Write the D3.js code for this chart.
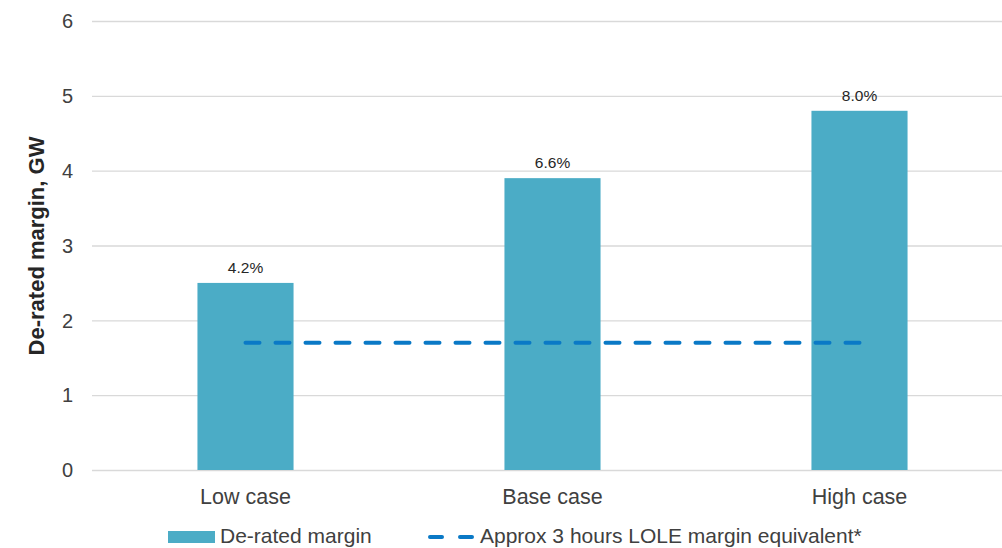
<!DOCTYPE html>
<html>
<head>
<meta charset="utf-8">
<script src="https://cdn.jsdelivr.net/npm/d3@7"></script>
<style>
  body { margin: 0; background: #fff; }
  svg { font-family: Arial, "Liberation Sans", sans-serif; }
</style>
</head>
<body>
<svg id="chart" width="1002" height="548"></svg>
<script>
const categories = ['Low case', 'Base case', 'High case']
const margins = [2.5, 3.9, 4.8] // GW
const marginLabels = ['4.2%', '6.6%', '8.0%']
const loleLevel = [1.7, 1.7, 1.7] // approx 3 hours LOLE
const yTicks = [0, 1, 2, 3, 4, 5, 6]

const svg = d3.select('#chart')
const plotLeft = 92, plotRight = 1013, plotTop = 21, plotBottom = 470

const x = d3.scaleBand().domain(categories).range([plotLeft, plotRight]).paddingInner(0.687).paddingOuter(0.3435)
const y = d3.scaleLinear().domain([0, 6]).range([plotBottom, plotTop])

// grid
svg.append('g').selectAll('line').data(yTicks).join('line')
  .attr('x1', plotLeft).attr('x2', plotRight)
  .attr('y1', d => y(d) + 0.5).attr('y2', d => y(d) + 0.5)
  .attr('stroke', '#d9d9d9').attr('stroke-width', 1.3)

// y tick labels
svg.append('g').selectAll('text').data(yTicks).join('text')
  .attr('x', 73).attr('y', d => y(d))
  .attr('dy', '0.36em').attr('text-anchor', 'end')
  .attr('font-size', 20).attr('fill', '#404040')
  .text(d => d)

// y title
svg.append('text')
  .attr('transform', 'translate(44,246) rotate(-90)')
  .attr('text-anchor', 'middle')
  .attr('font-size', 22).attr('font-weight', 'bold').attr('fill', '#262626')
  .text('De-rated margin, GW')

// bars
svg.append('g').selectAll('rect').data(margins).join('rect')
  .attr('x', (d, i) => x(categories[i]))
  .attr('width', x.bandwidth())
  .attr('y', d => y(d))
  .attr('height', d => y(0) - y(d))
  .attr('fill', '#4BACC6')

// bar labels
svg.append('g').selectAll('text').data(margins).join('text')
  .attr('x', (d, i) => x(categories[i]) + x.bandwidth() / 2)
  .attr('y', d => y(d) - 10)
  .attr('text-anchor', 'middle')
  .attr('font-size', 15.5).attr('fill', '#262626')
  .text((d, i) => marginLabels[i])

// LOLE dashed line
const line = d3.line()
  .x((d, i) => x(categories[i]) + x.bandwidth() / 2)
  .y(d => y(d))
svg.append('path').datum(loleLevel)
  .attr('d', line)
  .attr('fill', 'none')
  .attr('stroke', '#0A79C6').attr('stroke-width', 4)
  .attr('stroke-linecap', 'round')
  .attr('stroke-dasharray', '14 16')

// category labels
svg.append('g').selectAll('text').data(categories).join('text')
  .attr('x', d => x(d) + x.bandwidth() / 2)
  .attr('y', 504)
  .attr('text-anchor', 'middle')
  .attr('font-size', 21.5).attr('fill', '#404040')
  .text(d => d)

// legend
const legend = svg.append('g')
legend.append('rect').attr('x', 168).attr('y', 531).attr('width', 47).attr('height', 12).attr('fill', '#4BACC6')
legend.append('text').attr('x', 220).attr('y', 543).attr('font-size', 21).attr('fill', '#404040').text('De-rated margin')
legend.append('line').attr('x1', 430).attr('x2', 474).attr('y1', 537).attr('y2', 537)
  .attr('stroke', '#0A79C6').attr('stroke-width', 4).attr('stroke-linecap', 'round')
  .attr('stroke-dasharray', '12 18')
legend.append('text').attr('x', 480).attr('y', 543).attr('font-size', 21).attr('fill', '#404040').text('Approx 3 hours LOLE margin equivalent*')
</script>
</body>
</html>
